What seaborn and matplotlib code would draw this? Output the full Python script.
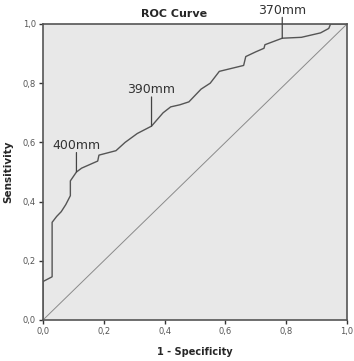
import matplotlib
matplotlib.use("Agg")
import matplotlib.pyplot as plt
import seaborn as sns
import pandas as pd

# ROC curve points (1 - specificity, sensitivity)
fpr = [0.0, 0.0, 0.03, 0.03, 0.045, 0.06, 0.075, 0.09, 0.09, 0.11, 0.127, 0.18,
       0.184, 0.24, 0.27, 0.31, 0.357, 0.395, 0.42, 0.45, 0.48, 0.52, 0.55,
       0.58, 0.66, 0.667, 0.70, 0.727, 0.73, 0.787, 0.85, 0.913, 0.94, 0.946, 1.0]
tpr = [0.0, 0.13, 0.146, 0.33, 0.35, 0.366, 0.39, 0.42, 0.47, 0.50, 0.513, 0.537,
       0.557, 0.572, 0.60, 0.63, 0.655, 0.70, 0.72, 0.727, 0.737, 0.78, 0.80,
       0.84, 0.86, 0.89, 0.906, 0.918, 0.93, 0.952, 0.955, 0.97, 0.985, 1.0, 1.0]
ref_line = [0.0, 1.0]

# cut-off labels: text, x, y, line length (points)
cut_labels = ["400mm", "390mm", "370mm"]
cut_x = [0.11, 0.357, 0.787]
cut_y = [0.50, 0.655, 0.952]
cut_len = [14, 21, 15]

ticks = [0.0, 0.2, 0.4, 0.6, 0.8, 1.0]
tick_labels = ["0,0", "0,2", "0,4", "0,6", "0,8", "1,0"]

sns.set_style("white")
plt.rcParams["font.family"] = ["DejaVu Sans"]

fig = plt.figure(figsize=(3.54, 3.61), dpi=100)
ax = fig.add_axes([43 / 354, 1 - 320 / 361, 304 / 354, 296 / 361])
ax.set_facecolor("#e8e8e8")

df = pd.DataFrame({"fpr": fpr, "tpr": tpr})
sns.lineplot(data=df, x="fpr", y="tpr", sort=False, estimator=None,
             color="#555555", linewidth=1.0, ax=ax)
sns.lineplot(x=ref_line, y=ref_line, color="#8a8a8a", linewidth=0.7, ax=ax)

for lab, x, y, ln in zip(cut_labels, cut_x, cut_y, cut_len):
    ax.annotate("", xy=(x, y), xytext=(0, ln), textcoords="offset points",
                arrowprops=dict(arrowstyle="-", color="#444444", lw=0.9,
                                shrinkA=0, shrinkB=0),
                annotation_clip=False)
    ax.annotate(lab, xy=(x, y), xytext=(0, ln + 0.5), textcoords="offset points",
                ha="center", va="bottom", fontsize=9, color="#333333",
                annotation_clip=False)

ax.set_xlim(0, 1)
ax.set_ylim(0, 1)
ax.set_xticks(ticks)
ax.set_yticks(ticks)
ax.set_xticklabels(tick_labels)
ax.set_yticklabels(tick_labels)
ax.tick_params(axis="both", length=3, width=1, color="#333333",
               labelsize=6, labelcolor="#555555", pad=2, direction="out",
               bottom=True, left=True)

for s in ax.spines.values():
    s.set_color("#555555")
    s.set_linewidth(1.2)

ax.set_xlabel("1 - Specificity", fontsize=7, fontweight="bold", labelpad=8)
ax.set_ylabel("Sensitivity", fontsize=7.5, fontweight="bold", labelpad=7)
ax.set_title("ROC Curve", fontsize=8, fontweight="bold", x=0.43, pad=5)

fig.savefig("out.png", dpi=100)
